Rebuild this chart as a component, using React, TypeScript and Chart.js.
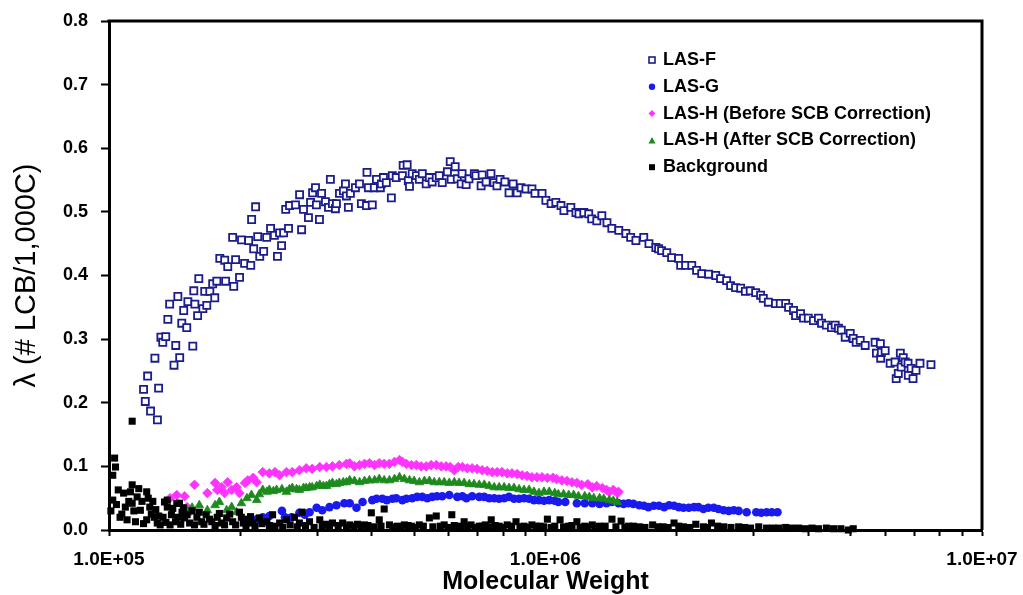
import React, { useEffect, useRef } from 'react';
import { Chart, registerables } from 'chart.js';

Chart.register(...registerables);

// ---------------- DATA ----------------
const seriesNames = [
  'LAS-F',
  'LAS-G',
  'LAS-H (Before SCB Correction)',
  'LAS-H (After SCB Correction)',
  'Background',
];

const xMajorTicks = [1e5, 1e6, 1e7];
const xMajorLabels = ['1.0E+05', '1.0E+06', '1.0E+07'];
const xMinorTicks = [2e5, 3e5, 4e5, 5e5, 6e5, 7e5, 8e5, 9e5, 2e6, 3e6, 4e6, 5e6, 6e6, 7e6, 8e6, 9e6];
const yTickValues = [0, 0.1, 0.2, 0.3, 0.4, 0.5, 0.6, 0.7, 0.8];
const yTickLabels = ['0.0', '0.1', '0.2', '0.3', '0.4', '0.5', '0.6', '0.7', '0.8'];

// [molecular weight, lambda]
const lasF: [number, number][] = [
  [1.20e5,0.221],[1.211e5,0.202],[1.226e5,0.242],[1.245e5,0.187],[1.274e5,0.270],[1.291e5,0.173],[1.299e5,0.223],
  [1.315e5,0.303],[1.328e5,0.295],[1.349e5,0.304],[1.364e5,0.331],[1.377e5,0.355],[1.409e5,0.259],[1.422e5,0.290],
  [1.438e5,0.367],[1.452e5,0.271],[1.468e5,0.325],[1.483e5,0.345],[1.507e5,0.318],[1.516e5,0.359],[1.556e5,0.289],
  [1.564e5,0.376],[1.573e5,0.355],[1.596e5,0.337],[1.606e5,0.395],[1.641e5,0.348],[1.657e5,0.375],[1.675e5,0.353],
  [1.702e5,0.375],[1.728e5,0.387],[1.747e5,0.365],[1.766e5,0.391],[1.794e5,0.427],[1.841e5,0.424],[1.850e5,0.391],
  [1.871e5,0.414],[1.920e5,0.460],[1.931e5,0.383],[1.950e5,0.425],[1.991e5,0.397],[2.012e5,0.456],[2.045e5,0.419],
  [2.089e5,0.455],[2.112e5,0.416],[2.122e5,0.488],[2.145e5,0.442],[2.167e5,0.508],[2.191e5,0.461],[2.215e5,0.430],
  [2.261e5,0.438],[2.297e5,0.460],[2.345e5,0.474],[2.393e5,0.463],[2.432e5,0.430],[2.459e5,0.467],[2.485e5,0.447],
  [2.512e5,0.467],[2.540e5,0.504],[2.578e5,0.474],[2.592e5,0.510],[2.675e5,0.511],[2.733e5,0.527],[2.762e5,0.472],
  [2.790e5,0.504],[2.864e5,0.491],[2.896e5,0.515],[2.927e5,0.530],[2.972e5,0.538],[2.987e5,0.511],[3.035e5,0.488],
  [3.069e5,0.529],[3.133e5,0.516],[3.183e5,0.507],[3.215e5,0.551],[3.250e5,0.513],[3.302e5,0.505],[3.319e5,0.513],
  [3.373e5,0.529],[3.444e5,0.533],[3.481e5,0.544],[3.499e5,0.525],[3.535e5,0.507],[3.573e5,0.529],[3.669e5,0.538],
  [3.748e5,0.544],[3.786e5,0.513],[3.890e5,0.510],[3.900e5,0.562],[3.929e5,0.538],[4.010e5,0.511],[4.054e5,0.538],
  [4.100e5,0.551],[4.185e5,0.538],[4.207e5,0.544],[4.253e5,0.554],[4.318e5,0.546],[4.435e5,0.522],[4.457e5,0.557],
  [4.55e5,0.554],[4.70e5,0.557],[4.72e5,0.573],[4.82e5,0.574],[4.85e5,0.549],[4.88e5,0.540],[4.95e5,0.560],
  [5.06e5,0.557],[5.14e5,0.551],[5.22e5,0.560],[5.33e5,0.544],[5.42e5,0.554],[5.50e5,0.547],[5.62e5,0.554],
  [5.71e5,0.557],[5.80e5,0.546],[5.96e5,0.563],[6.05e5,0.579],[6.08e5,0.551],[6.21e5,0.571],[6.28e5,0.552],
  [6.41e5,0.544],[6.44e5,0.560],[6.58e5,0.543],[6.68e5,0.552],[6.87e5,0.560],[6.93e5,0.557],[7.12e5,0.541],
  [7.16e5,0.558],[7.31e5,0.547],[7.50e5,0.560],[7.62e5,0.546],[7.74e5,0.541],[7.87e5,0.551],[8.07e5,0.547],
  [8.25e5,0.530],[8.43e5,0.544],[8.61e5,0.530],[8.79e5,0.538],[9.02e5,0.536],[9.31e5,0.536],[9.46e5,0.529],
  [9.82e5,0.529],[1.002e6,0.518],[1.030e6,0.513],[1.056e6,0.515],[1.085e6,0.510],[1.102e6,0.502],[1.143e6,0.507],
  [1.174e6,0.499],[1.193e6,0.497],[1.224e6,0.499],[1.256e6,0.497],[1.276e6,0.489],[1.311e6,0.486],[1.346e6,0.494],
  [1.383e6,0.483],[1.419e6,0.474],[1.472e6,0.471],[1.528e6,0.466],[1.567e6,0.460],[1.611e6,0.455],[1.679e6,0.460],
  [1.726e6,0.450],[1.790e6,0.444],[1.816e6,0.442],[1.845e6,0.439],[1.896e6,0.436],[1.945e6,0.428],[2.018e6,0.427],
  [2.04e6,0.416],[2.094e6,0.416],[2.163e6,0.416],[2.219e6,0.408],[2.28e6,0.403],[2.364e6,0.402],[2.455e6,0.400],
  [2.518e6,0.395],[2.60e6,0.392],[2.655e6,0.384],[2.725e6,0.381],[2.80e6,0.380],[2.87e6,0.375],[2.945e6,0.376],
  [3.03e6,0.373],[3.11e6,0.369],[3.155e6,0.364],[3.24e6,0.358],[3.365e6,0.356],[3.45e6,0.356],[3.55e6,0.356],
  [3.605e6,0.350],[3.70e6,0.345],[3.74e6,0.337],[3.84e6,0.340],[3.90e6,0.333],[4.00e6,0.333],[4.11e6,0.329],
  [4.22e6,0.333],[4.29e6,0.325],[4.40e6,0.322],[4.52e6,0.318],[4.61e6,0.322],[4.69e6,0.317],[4.76e6,0.314],
  [4.86e6,0.303],[4.99e6,0.309],[5.07e6,0.301],[5.15e6,0.295],[5.26e6,0.298],[5.40e6,0.290],[5.69e6,0.295],
  [5.73e6,0.278],[5.85e6,0.293],[5.86e6,0.270],[5.88e6,0.279],[6.00e6,0.282],[6.16e6,0.262],[6.32e6,0.264],
  [6.36e6,0.238],[6.43e6,0.246],[6.50e6,0.278],[6.53e6,0.256],[6.60e6,0.271],[6.67e6,0.264],[6.77e6,0.262],
  [6.78e6,0.243],[6.88e6,0.254],[6.95e6,0.238],[7.06e6,0.251],[7.21e6,0.262],[7.64e6,0.260],
];

const lasG: [number, number][] = [
  [2.12e5,0.016],[2.18e5,0.017],[2.25e5,0.020],[2.33e5,0.022],[2.49e5,0.030],[2.53e5,0.020],[2.62e5,0.020],
  [2.73e5,0.027],[2.81e5,0.024],[2.88e5,0.028],[2.99e5,0.035],[3.08e5,0.031],[3.20e5,0.036],[3.32e5,0.039],
  [3.46e5,0.042],[3.56e5,0.042],[3.69e5,0.035],[3.81e5,0.044],[4.01e5,0.047],[4.10e5,0.049],[4.23e5,0.049],
  [4.33e5,0.047],[4.46e5,0.049],[4.55e5,0.050],[4.70e5,0.047],[4.80e5,0.049],[4.95e5,0.050],[5.08e5,0.052],
  [5.22e5,0.052],[5.36e5,0.050],[5.50e5,0.052],[5.64e5,0.053],[5.80e5,0.053],[6.02e5,0.055],[6.28e5,0.052],
  [6.45e5,0.053],[6.59e5,0.050],[6.79e5,0.053],[7.05e5,0.052],[7.24e5,0.052],[7.43e5,0.050],[7.63e5,0.050],
  [7.83e5,0.049],[8.04e5,0.050],[8.25e5,0.052],[8.47e5,0.049],[8.70e5,0.049],[8.93e5,0.050],[9.17e5,0.049],
  [9.41e5,0.047],[9.66e5,0.047],[9.92e5,0.046],[1.02e6,0.047],[1.05e6,0.046],[1.07e6,0.044],[1.11e6,0.044],
  [1.18e6,0.042],[1.23e6,0.042],[1.28e6,0.042],[1.33e6,0.041],[1.38e6,0.042],[1.42e6,0.044],[1.47e6,0.042],
  [1.51e6,0.041],[1.55e6,0.042],[1.59e6,0.041],[1.64e6,0.039],[1.68e6,0.038],[1.72e6,0.036],[1.77e6,0.038],
  [1.82e6,0.038],[1.87e6,0.036],[1.92e6,0.039],[1.97e6,0.038],[2.02e6,0.036],[2.07e6,0.035],[2.13e6,0.035],
  [2.19e6,0.036],[2.24e6,0.036],[2.30e6,0.033],[2.36e6,0.035],[2.43e6,0.035],[2.49e6,0.033],[2.56e6,0.031],
  [2.63e6,0.030],[2.70e6,0.031],[2.77e6,0.030],[2.89e6,0.028],[3.04e6,0.028],[3.12e6,0.027],[3.21e6,0.028],
  [3.30e6,0.028],[3.40e6,0.028],
];

const lasHBefore: [number, number][] = [
  [1.38e5,0.050],[1.43e5,0.055],[1.49e5,0.053],[1.51e5,0.036],[1.53e5,0.028],[1.57e5,0.071],[1.68e5,0.058],
  [1.75e5,0.074],[1.77e5,0.063],[1.81e5,0.067],[1.84e5,0.058],[1.87e5,0.075],[1.91e5,0.063],[1.96e5,0.067],
  [1.99e5,0.058],[2.05e5,0.074],[2.08e5,0.078],[2.14e5,0.082],[2.18e5,0.075],[2.25e5,0.091],[2.33e5,0.089],
  [2.40e5,0.091],[2.46e5,0.086],[2.55e5,0.091],[2.63e5,0.091],[2.73e5,0.094],[2.83e5,0.097],[2.92e5,0.096],
  [3.04e5,0.099],[3.15e5,0.099],[3.25e5,0.100],[3.37e5,0.102],[3.50e5,0.104],[3.56e5,0.105],[3.65e5,0.100],
  [3.75e5,0.102],[3.85e5,0.104],[3.95e5,0.105],[4.06e5,0.102],[4.16e5,0.105],[4.27e5,0.104],[4.39e5,0.104],
  [4.51e5,0.107],[4.63e5,0.110],[4.70e5,0.107],[4.80e5,0.104],[4.93e5,0.102],[5.06e5,0.102],[5.19e5,0.100],
  [5.33e5,0.100],[5.47e5,0.102],[5.62e5,0.102],[5.77e5,0.100],[5.92e5,0.100],[6.05e5,0.099],[6.18e5,0.094],
  [6.31e5,0.099],[6.45e5,0.099],[6.62e5,0.097],[6.79e5,0.097],[6.97e5,0.096],[7.16e5,0.094],[7.35e5,0.093],
  [7.55e5,0.091],[7.75e5,0.091],[7.95e5,0.091],[8.17e5,0.089],[8.38e5,0.089],[8.61e5,0.088],[8.84e5,0.086],
  [9.07e5,0.085],[9.31e5,0.083],[9.56e5,0.083],[9.82e5,0.083],[1.01e6,0.082],[1.04e6,0.082],[1.06e6,0.080],
  [1.09e6,0.078],[1.12e6,0.077],[1.15e6,0.075],[1.18e6,0.074],[1.21e6,0.071],[1.25e6,0.072],[1.28e6,0.067],
  [1.31e6,0.069],[1.35e6,0.066],[1.38e6,0.063],[1.40e6,0.060],[1.43e6,0.063],[1.46e6,0.058],[1.47e6,0.060],
];

const lasHAfter: [number, number][] = [
  [1.51e5,0.031],[1.55e5,0.035],[1.61e5,0.039],[1.68e5,0.031],[1.75e5,0.039],[1.79e5,0.044],[1.86e5,0.031],
  [1.91e5,0.036],[1.96e5,0.028],[2.01e5,0.042],[2.07e5,0.050],[2.12e5,0.055],[2.18e5,0.047],[2.21e5,0.056],
  [2.25e5,0.063],[2.30e5,0.060],[2.33e5,0.063],[2.38e5,0.061],[2.42e5,0.063],[2.49e5,0.064],[2.55e5,0.060],
  [2.59e5,0.064],[2.63e5,0.066],[2.69e5,0.064],[2.73e5,0.063],[2.79e5,0.066],[2.83e5,0.066],[2.88e5,0.067],
  [2.92e5,0.067],[2.99e5,0.069],[3.04e5,0.071],[3.10e5,0.069],[3.15e5,0.069],[3.20e5,0.072],[3.25e5,0.074],
  [3.32e5,0.072],[3.37e5,0.074],[3.44e5,0.075],[3.50e5,0.075],[3.56e5,0.078],[3.65e5,0.077],[3.75e5,0.075],
  [3.85e5,0.077],[3.95e5,0.078],[4.06e5,0.078],[4.16e5,0.080],[4.27e5,0.078],[4.39e5,0.078],[4.51e5,0.080],
  [4.63e5,0.083],[4.75e5,0.080],[4.88e5,0.078],[5.00e5,0.077],[5.14e5,0.075],[5.28e5,0.077],[5.42e5,0.077],
  [5.56e5,0.075],[5.71e5,0.075],[5.86e5,0.075],[6.02e5,0.074],[6.18e5,0.075],[6.34e5,0.074],[6.51e5,0.074],
  [6.69e5,0.072],[6.86e5,0.072],[7.05e5,0.071],[7.24e5,0.071],[7.43e5,0.069],[7.63e5,0.067],[7.83e5,0.067],
  [8.04e5,0.067],[8.25e5,0.066],[8.47e5,0.066],[8.70e5,0.064],[8.93e5,0.063],[9.17e5,0.063],[9.41e5,0.060],
  [9.66e5,0.058],[9.92e5,0.060],[1.02e6,0.060],[1.05e6,0.058],[1.07e6,0.056],[1.10e6,0.056],[1.13e6,0.055],
  [1.16e6,0.055],[1.19e6,0.053],[1.23e6,0.053],[1.26e6,0.052],[1.29e6,0.050],[1.33e6,0.050],[1.36e6,0.049],
  [1.40e6,0.047],[1.43e6,0.046],[1.46e6,0.044],
];

const background: [number, number][] = [
  [1.03e5,0.113],[1.035e5,0.099],[1.02e5,0.086],[1.05e5,0.063],[1.02e5,0.047],[1.08e5,0.058],[1.09e5,0.036],
  [1.06e5,0.020],[1.10e5,0.016],[1.13e5,0.071],[1.16e5,0.052],[1.13e5,0.042],[1.18e5,0.031],[1.15e5,0.013],
  [1.13e5,0.171],[1.22e5,0.060],[1.23e5,0.050],[1.24e5,0.036],[1.22e5,0.016],[1.27e5,0.020],[1.29e5,0.011],
  [1.33e5,0.020],[1.34e5,0.044],[1.36e5,0.047],[1.36e5,0.036],[1.39e5,0.024],[1.42e5,0.013],[1.43e5,0.042],
  [1.45e5,0.042],[1.47e5,0.028],[1.49e5,0.019],[1.53e5,0.011],[1.59e5,0.020],[1.63e5,0.013],[1.67e5,0.024],
  [1.72e5,0.013],[1.77e5,0.020],[1.81e5,0.011],[1.86e5,0.019],[1.92e5,0.013],[1.99e5,0.028],[2.03e5,0.011],
  [2.08e5,0.017],[2.13e5,0.011],[2.21e5,0.019],[2.30e5,0.013],[2.37e5,0.024],[2.46e5,0.011],[2.55e5,0.016],
  [2.66e5,0.020],[2.73e5,0.011],[2.77e5,0.028],[2.88e5,0.013],[3.04e5,0.016],[3.15e5,0.009],[3.25e5,0.011],
  [3.43e5,0.011],[3.56e5,0.008],[3.71e5,0.009],[3.85e5,0.008],[3.99e5,0.027],[4.16e5,0.016],[4.27e5,0.033],
  [4.39e5,0.008],[4.58e5,0.006],[4.75e5,0.008],[4.93e5,0.006],[5.14e5,0.008],[5.42e5,0.019],[5.62e5,0.022],
  [5.86e5,0.008],[6.10e5,0.024],[6.28e5,0.006],[6.51e5,0.013],[6.75e5,0.008],[7.05e5,0.006],[7.28e5,0.008],
  [7.51e5,0.016],[7.83e5,0.006],[8.17e5,0.008],[8.56e5,0.013],[8.93e5,0.006],[9.31e5,0.008],[9.72e5,0.006],
  [1.01e6,0.017],[1.05e6,0.006],[1.08e6,0.016],[1.13e6,0.006],[1.18e6,0.013],[1.23e6,0.006],[1.28e6,0.008],
  [1.33e6,0.006],[1.42e6,0.017],[1.49e6,0.014],[1.55e6,0.006],[1.64e6,0.005],[1.76e6,0.008],[1.86e6,0.005],
  [1.97e6,0.011],[2.07e6,0.005],[2.21e6,0.009],[2.30e6,0.005],[2.40e6,0.011],[2.56e6,0.005],[2.77e6,0.005],
  [2.95e6,0.003],[3.21e6,0.003],[3.42e6,0.003],[3.67e6,0.003],[3.94e6,0.002],[4.22e6,0.002],[4.57e6,0.002],
  [4.94e6,0.000],[5.07e6,0.002],
  [1.01e5,0.030],[1.04e5,0.040],[1.07e5,0.025],[1.11e5,0.045],[1.12e5,0.060],[1.14e5,0.030],[1.17e5,0.065],
  [1.19e5,0.045],[1.20e5,0.010],[1.25e5,0.025],[1.26e5,0.045],[1.28e5,0.032],[1.30e5,0.022],[1.31e5,0.008],
  [1.35e5,0.012],[1.38e5,0.008],[1.40e5,0.034],[1.44e5,0.020],[1.46e5,0.009],[1.48e5,0.035],[1.51e5,0.024],
  [1.55e5,0.030],[1.57e5,0.008],[1.61e5,0.028],[1.65e5,0.009],[1.70e5,0.017],[1.75e5,0.007],[1.79e5,0.026],
  [1.84e5,0.008],[1.89e5,0.025],[1.95e5,0.008],[2.01e5,0.020],[2.06e5,0.007],[2.11e5,0.021],[2.16e5,0.006],
  [2.24e5,0.010],[2.33e5,0.007],
  [2.40e5,0.006],[2.50e5,0.004],[2.60e5,0.008],[2.70e5,0.005],[2.82e5,0.007],[2.95e5,0.004],[3.08e5,0.006],
  [3.20e5,0.005],[3.35e5,0.007],[3.50e5,0.004],[3.64e5,0.006],[3.78e5,0.005],[3.92e5,0.007],[4.05e5,0.005],
  [4.20e5,0.006],[4.47e5,0.005],[4.66e5,0.004],[4.84e5,0.007],[5.03e5,0.004],[5.25e5,0.006],[5.52e5,0.005],
  [5.74e5,0.006],[5.98e5,0.004],[6.18e5,0.007],[6.40e5,0.005],[6.63e5,0.006],[6.90e5,0.004],[7.16e5,0.006],
  [7.40e5,0.005],[7.67e5,0.007],[8.00e5,0.004],[8.36e5,0.006],[8.74e5,0.005],[9.12e5,0.004],[9.52e5,0.006],
  [9.90e5,0.005],[1.03e6,0.004],[1.10e6,0.005],[1.15e6,0.007],[1.20e6,0.004],[1.25e6,0.005],[1.30e6,0.004],
  [1.37e6,0.006],[1.45e6,0.005],[1.52e6,0.004],[1.59e6,0.006],[1.69e6,0.004],[1.81e6,0.005],[1.91e6,0.004],
  [2.02e6,0.006],[2.14e6,0.004],[2.35e6,0.004],[2.48e6,0.006],[2.66e6,0.004],[2.86e6,0.004],[3.08e6,0.005],
  [3.32e6,0.003],[3.55e6,0.004],[3.80e6,0.003],[4.08e6,0.003],[4.40e6,0.003],[4.75e6,0.002],
];

// ---------------- STYLE ----------------
const FONT = "'Liberation Sans', Arial, Helvetica, sans-serif";
const colors = ['#1c1c8c', '#1a1aee', '#ff33ff', '#1d8a1d', '#000000'];

const toPts = (arr: [number, number][]) => arr.map(([x, y]) => ({ x, y }));

function drawMarker(ctx: CanvasRenderingContext2D, idx: number, x: number, y: number) {
  const c = colors[idx];
  ctx.save();
  if (idx === 0) {
    ctx.fillStyle = '#fff';
    ctx.strokeStyle = c;
    ctx.lineWidth = 1.6;
    ctx.fillRect(x - 3, y - 3, 6, 6);
    ctx.strokeRect(x - 3, y - 3, 6, 6);
  } else if (idx === 1) {
    ctx.fillStyle = c;
    ctx.beginPath();
    ctx.arc(x, y, 3.2, 0, Math.PI * 2);
    ctx.fill();
  } else if (idx === 2) {
    ctx.fillStyle = c;
    ctx.beginPath();
    ctx.moveTo(x, y - 3.5);
    ctx.lineTo(x + 3.5, y);
    ctx.lineTo(x, y + 3.5);
    ctx.lineTo(x - 3.5, y);
    ctx.closePath();
    ctx.fill();
  } else if (idx === 3) {
    ctx.fillStyle = c;
    ctx.beginPath();
    ctx.moveTo(x, y - 3.5);
    ctx.lineTo(x + 3.5, y + 3);
    ctx.lineTo(x - 3.5, y + 3);
    ctx.closePath();
    ctx.fill();
  } else {
    ctx.fillStyle = c;
    ctx.fillRect(x - 3, y - 3, 6, 6);
  }
  ctx.restore();
}

const framePlugin = {
  id: 'frameLines',
  afterDatasetsDraw(chart: any) {
    const { ctx, chartArea: a } = chart;
    ctx.save();
    ctx.strokeStyle = '#000';
    ctx.lineWidth = 3;
    ctx.beginPath();
    ctx.moveTo(a.left - 1.5, a.top);
    ctx.lineTo(a.right, a.top);
    ctx.lineTo(a.right, a.bottom);
    ctx.stroke();
    ctx.restore();
  },
};

const legendPlugin = {
  id: 'insideLegend',
  afterDraw(chart: any) {
    const { ctx, chartArea: a } = chart;
    ctx.save();
    ctx.font = `bold 18px ${FONT}`;
    ctx.textBaseline = 'middle';
    ctx.textAlign = 'left';
    ctx.fillStyle = '#000';
    const x0 = a.left + 543;
    const y0 = a.top + 39;
    seriesNames.forEach((name, i) => {
      const y = y0 + i * 26.8;
      drawMarker(ctx, i, x0, y);
      ctx.fillText(name, x0 + 11, y);
    });
    ctx.restore();
  },
};

export default function App() {
  const ref = useRef<HTMLCanvasElement | null>(null);

  useEffect(() => {
    if (!ref.current) return;
    const chart = new Chart(ref.current, {
      type: 'scatter',
      data: {
        datasets: [
          {
            label: seriesNames[0],
            data: toPts(lasF),
            pointStyle: 'rect',
            pointRadius: 5,
            backgroundColor: '#ffffff',
            borderColor: colors[0],
            borderWidth: 1.8,
            order: 5,
            clip: false,
          },
          {
            label: seriesNames[1],
            data: toPts(lasG),
            pointStyle: 'circle',
            pointRadius: 4.3,
            backgroundColor: colors[1],
            borderColor: colors[1],
            borderWidth: 0,
            order: 4,
            clip: false,
          },
          {
            label: seriesNames[2],
            data: toPts(lasHBefore),
            pointStyle: 'rectRot',
            pointRadius: 4.8,
            backgroundColor: colors[2],
            borderColor: colors[2],
            borderWidth: 0.8,
            order: 3,
            clip: false,
          },
          {
            label: seriesNames[3],
            data: toPts(lasHAfter),
            pointStyle: 'triangle',
            pointRadius: 5,
            backgroundColor: colors[3],
            borderColor: colors[3],
            borderWidth: 0.8,
            order: 2,
            clip: false,
          },
          {
            label: seriesNames[4],
            data: toPts(background),
            pointStyle: 'rect',
            pointRadius: 5,
            backgroundColor: colors[4],
            borderColor: colors[4],
            borderWidth: 0,
            order: 1,
            clip: false,
          },
        ],
      },
      options: {
        responsive: false,
        devicePixelRatio: 1,
        animation: false,
        events: [],
        layout: { padding: { top: 21, right: 41, left: 0, bottom: 0 } },
        plugins: {
          legend: { display: false },
          tooltip: { enabled: false },
        },
        scales: {
          x: {
            type: 'logarithmic',
            min: 1e5,
            max: 1e7,
            afterBuildTicks: (s: any) => {
              const vals = [...xMajorTicks, ...xMinorTicks].sort((a, b) => a - b);
              s.ticks = vals.map((v) => ({ value: v, major: xMajorTicks.includes(v) }));
            },
            afterFit: (s: any) => {
              s.height = 65;
              s.paddingLeft = 0;
              s.paddingRight = 0;
            },
            ticks: {
              autoSkip: false,
              maxRotation: 0,
              minRotation: 0,
              padding: 12,
              color: '#000',
              font: { family: FONT, size: 19, weight: 'bold' },
              callback: (v: any) => {
                const i = xMajorTicks.indexOf(Number(v));
                return i >= 0 ? xMajorLabels[i] : '';
              },
            },
            grid: {
              display: true,
              drawOnChartArea: false,
              drawTicks: true,
              tickLength: 6,
              tickWidth: 2,
              tickColor: '#000',
            },
            border: { display: true, color: '#000', width: 3 },
            title: {
              display: true,
              text: 'Molecular Weight',
              color: '#000',
              font: { family: FONT, size: 25, weight: 'bold', lineHeight: 1 },
              padding: { top: 0, bottom: 0 },
            },
          },
          y: {
            type: 'linear',
            min: 0,
            max: 0.8,
            afterBuildTicks: (s: any) => {
              s.ticks = yTickValues.map((v) => ({ value: v }));
            },
            afterFit: (s: any) => {
              s.width = 109;
              s.paddingTop = 0;
              s.paddingBottom = 0;
            },
            ticks: {
              padding: 13,
              color: '#000',
              font: { family: FONT, size: 18, weight: 'bold' },
              callback: (_v: any, i: number) => yTickLabels[i],
            },
            grid: {
              display: true,
              drawOnChartArea: false,
              drawTicks: true,
              tickLength: 8,
              tickWidth: 2,
              tickColor: '#000',
            },
            border: { display: true, color: '#000', width: 3 },
            title: {
              display: true,
              text: 'λ (# LCB/1,000C)',
              color: '#000',
              font: { family: FONT, size: 29, weight: 'normal', lineHeight: 1 },
              padding: { top: 12, bottom: 0 },
            },
          },
        },
      },
      plugins: [framePlugin, legendPlugin],
    } as any);
    return () => chart.destroy();
  }, []);

  return (
    <div style={{ position: 'fixed', left: 0, top: 0, width: 1023, height: 595, background: '#fff' }}>
      <canvas ref={ref} width={1023} height={595} style={{ display: 'block' }} />
    </div>
  );
}
